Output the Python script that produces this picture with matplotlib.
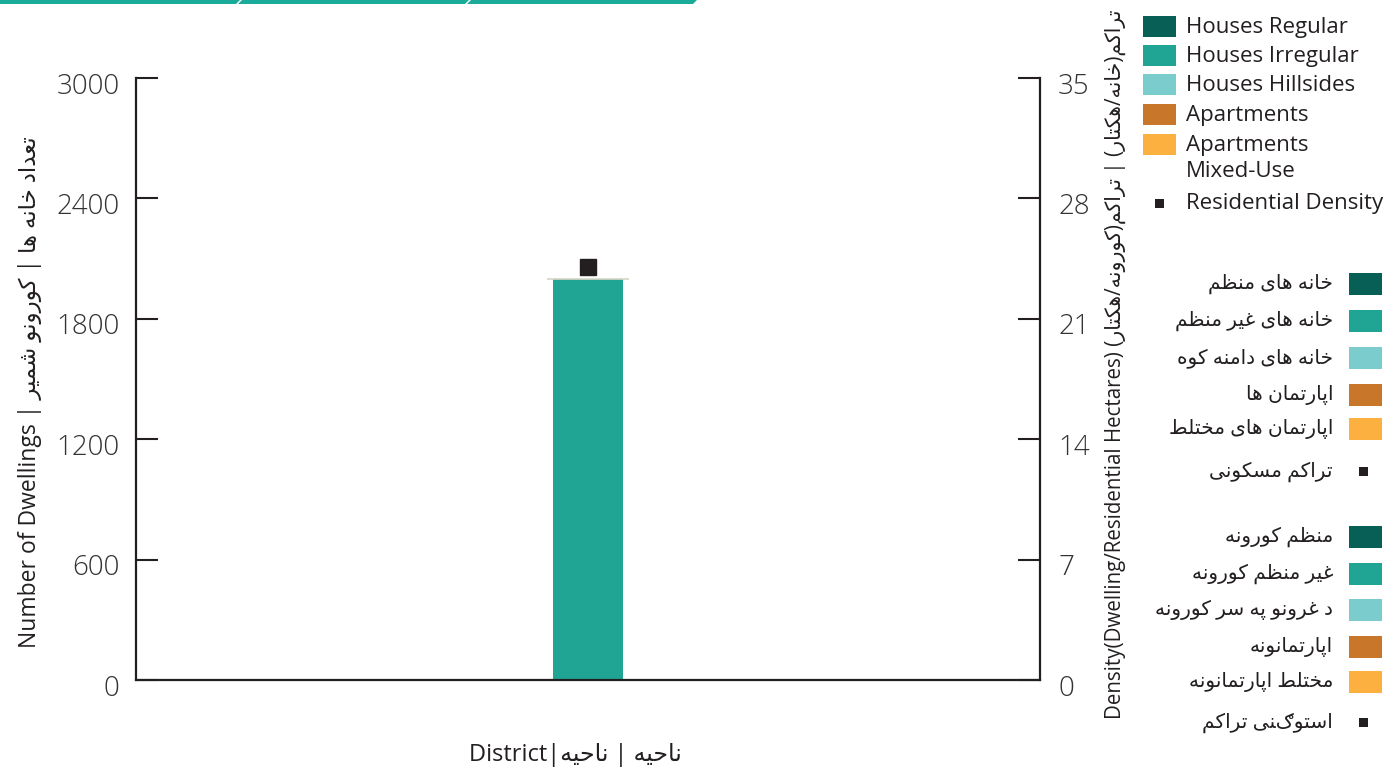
import matplotlib
matplotlib.use('Agg')
import matplotlib.pyplot as plt
import matplotlib.transforms as mtransforms
from matplotlib.patches import Rectangle, Polygon
import numpy as np

# data
districts = ['District']
house_types = ['Houses Regular', 'Houses Irregular', 'Houses Hillsides',
               'Apartments', 'Apartments\nMixed-Use']
dwellings = [0, 2000, 0, 0, 0]
density = [24]
type_colors = ['#075f55', '#20a595', '#7acdcc', '#c8772a', '#fbb040']
density_label = 'Residential Density'
labels_fa = ['خانه های منظم', 'خانه های غیر منظم', 'خانه های دامنه کوه',
             'اپارتمان ها', 'اپارتمان های مختلط', 'تراکم مسکونی']
labels_ps = ['منظم کورونه', 'غیر منظم کورونه', 'د غرونو په سر کورونه',
             'اپارتمانونه', 'مختلط اپارتمانونه', 'استوګنی تراکم']
left_ticks = [0, 600, 1200, 1800, 2400, 3000]
right_ticks = [0, 7, 14, 21, 28, 35]

FAM = ['Open Sans', 'DejaVu Sans']
TXT = '#231f20'
W, H = 1396, 772


# small arabic shaper (matplotlib does no shaping / bidi)
def _f(base, n=4):
    return tuple(chr(base + i) for i in range(n))


FORMS = {
    'ا': _f(0xFE8D, 2), 'ب': _f(0xFE8F), 'ة': _f(0xFE93, 2), 'ت': _f(0xFE95),
    'ث': _f(0xFE99), 'ج': _f(0xFE9D), 'ح': _f(0xFEA1), 'خ': _f(0xFEA5),
    'د': _f(0xFEA9, 2), 'ذ': _f(0xFEAB, 2), 'ر': _f(0xFEAD, 2), 'ز': _f(0xFEAF, 2),
    'س': _f(0xFEB1), 'ش': _f(0xFEB5), 'ص': _f(0xFEB9), 'ض': _f(0xFEBD),
    'ط': _f(0xFEC1), 'ظ': _f(0xFEC5), 'ع': _f(0xFEC9), 'غ': _f(0xFECD),
    'ف': _f(0xFED1), 'ق': _f(0xFED5), 'ل': _f(0xFEDD), 'م': _f(0xFEE1),
    'ن': _f(0xFEE5), 'ه': _f(0xFEE9), 'و': _f(0xFEED, 2), 'ي': _f(0xFEF1),
    'پ': _f(0xFB56), 'ک': _f(0xFB8E), 'گ': _f(0xFB92), 'ی': _f(0xFBFC),
    'ګ': ('ګ',) * 4,
}


def shape(text):
    out = []
    for i, ch in enumerate(text):
        if ch not in FORMS:
            out.append(ch)
            continue
        prev = text[i - 1] if i > 0 else ''
        nxt = text[i + 1] if i + 1 < len(text) else ''
        f = FORMS[ch]
        jp = prev in FORMS and len(FORMS[prev]) == 4
        jn = len(f) == 4 and nxt in FORMS
        if jp and jn:
            out.append(f[3])
        elif jp:
            out.append(f[1])
        elif jn:
            out.append(f[2])
        else:
            out.append(f[0])
    mirror = {'(': ')', ')': '('}
    return ''.join(mirror.get(c, c) for c in reversed(out))


fig = plt.figure(figsize=(13.96, 7.72), dpi=100)

# top tab decoration
for x0, x1 in [(0, 240), (242, 469), (471, 697)]:
    fig.add_artist(Polygon([(x0 / W, 1), (x1 / W, 1), ((x1 - 4) / W, 1 - 4 / H), ((x0 - 4) / W, 1 - 4 / H)],
                           closed=True, transform=fig.transFigure, color='#1aab9b', lw=0))

ax = fig.add_axes([136 / W, 1 - 680 / H, (1040 - 136) / W, (680 - 78) / H])
x = np.arange(len(districts))
bottom = np.zeros(len(districts))
for v, c in zip(dwellings, type_colors):
    ax.bar(x, [v], width=0.078, bottom=bottom, color=c, lw=0)
    bottom += v
ax.hlines(bottom, x - 0.045, x + 0.045, color='#d8d4c6', lw=1.2)
ax.set_xlim(-0.5, 0.5)
ax.set_ylim(0, 3000)
ax.set_yticks(left_ticks)
ax.set_xticks([])
for s in ['top', 'right']:
    ax.spines[s].set_visible(False)
for s in ['left', 'bottom']:
    ax.spines[s].set_linewidth(1.6)
    ax.spines[s].set_color(TXT)
ax.tick_params(axis='y', direction='in', length=16, width=1.5, color=TXT,
               labelsize=20, labelcolor='#333333', pad=12)

ax2 = ax.twinx()
ax2.plot(x, density, 's', color=TXT, ms=11)
ax2.set_ylim(0, 35)
ax2.set_yticks(right_ticks)
for s in ['top', 'left', 'bottom']:
    ax2.spines[s].set_visible(False)
ax2.spines['right'].set_linewidth(1.6)
ax2.spines['right'].set_color(TXT)
ax2.tick_params(axis='y', direction='in', length=16, width=1.5, color=TXT,
                labelsize=20, labelcolor='#333333', pad=13)
# labels sit a little below their ticks in the original
shift = mtransforms.ScaledTranslation(0, -5 / 100, fig.dpi_scale_trans)
for lab in ax.get_yticklabels() + ax2.get_yticklabels():
    lab.set_family(FAM)
    lab.set_fontweight('light')
    lab.set_transform(lab.get_transform() + shift)

# axis titles
fig.text(30 / W, 1 - 392 / H, 'Number of Dwellings | ' + shape('تعداد خانه ها | کورونو شمیر'),
         rotation=90, ha='center', va='center', fontsize=16.5, color=TXT, family=FAM)
fig.text(1115 / W, 1 - 364 / H,
         'Density(Dwelling/Residential Hectares) ' + shape('تراکم(خانه/هکتار) | تراکم(کورونه/هکتار)'),
         rotation=90, ha='center', va='center', fontsize=14.8, color=TXT, family=FAM)
fig.text(575 / W, 1 - 755 / H, 'District|' + shape('ناحیه | ناحیه'),
         ha='center', va='center', fontsize=17, color=TXT, family=FAM)

# english legend
rows_en = [26, 55, 84, 114, 144]
for yy, lab, c in zip(rows_en, house_types, type_colors):
    fig.add_artist(Rectangle((1143 / W, 1 - (yy + 11) / H), 33 / W, 21 / H,
                             transform=fig.transFigure, color=c, lw=0))
    fig.text(1186 / W, 1 - (yy - 9) / H, lab, ha='left', va='top', fontsize=16,
             color=TXT, family=FAM, linespacing=1.3)
fig.add_artist(Rectangle((1155 / W, 1 - 208 / H), 9 / W, 9 / H,
                         transform=fig.transFigure, color=TXT, lw=0))
fig.text(1186 / W, 1 - 204 / H, density_label, ha='left', va='center', fontsize=16,
         color=TXT, family=FAM)

# persian / pashto legends
for rows, labels in [([284, 321, 358, 395, 429, 472], labels_fa),
                     ([537, 574, 610, 647, 682, 723], labels_ps)]:
    for i, (yy, lab) in enumerate(zip(rows, labels)):
        if i < len(type_colors):
            fig.add_artist(Rectangle((1349 / W, 1 - (yy + 11) / H), 33 / W, 22 / H,
                                     transform=fig.transFigure, color=type_colors[i], lw=0))
        else:
            fig.add_artist(Rectangle((1359 / W, 1 - (yy + 4) / H), 9 / W, 9 / H,
                                     transform=fig.transFigure, color=TXT, lw=0))
        fig.text(1333 / W, 1 - yy / H, shape(lab), ha='right', va='center', fontsize=14.5,
                 color=TXT, family=FAM)

fig.savefig('out.png', dpi=100)
